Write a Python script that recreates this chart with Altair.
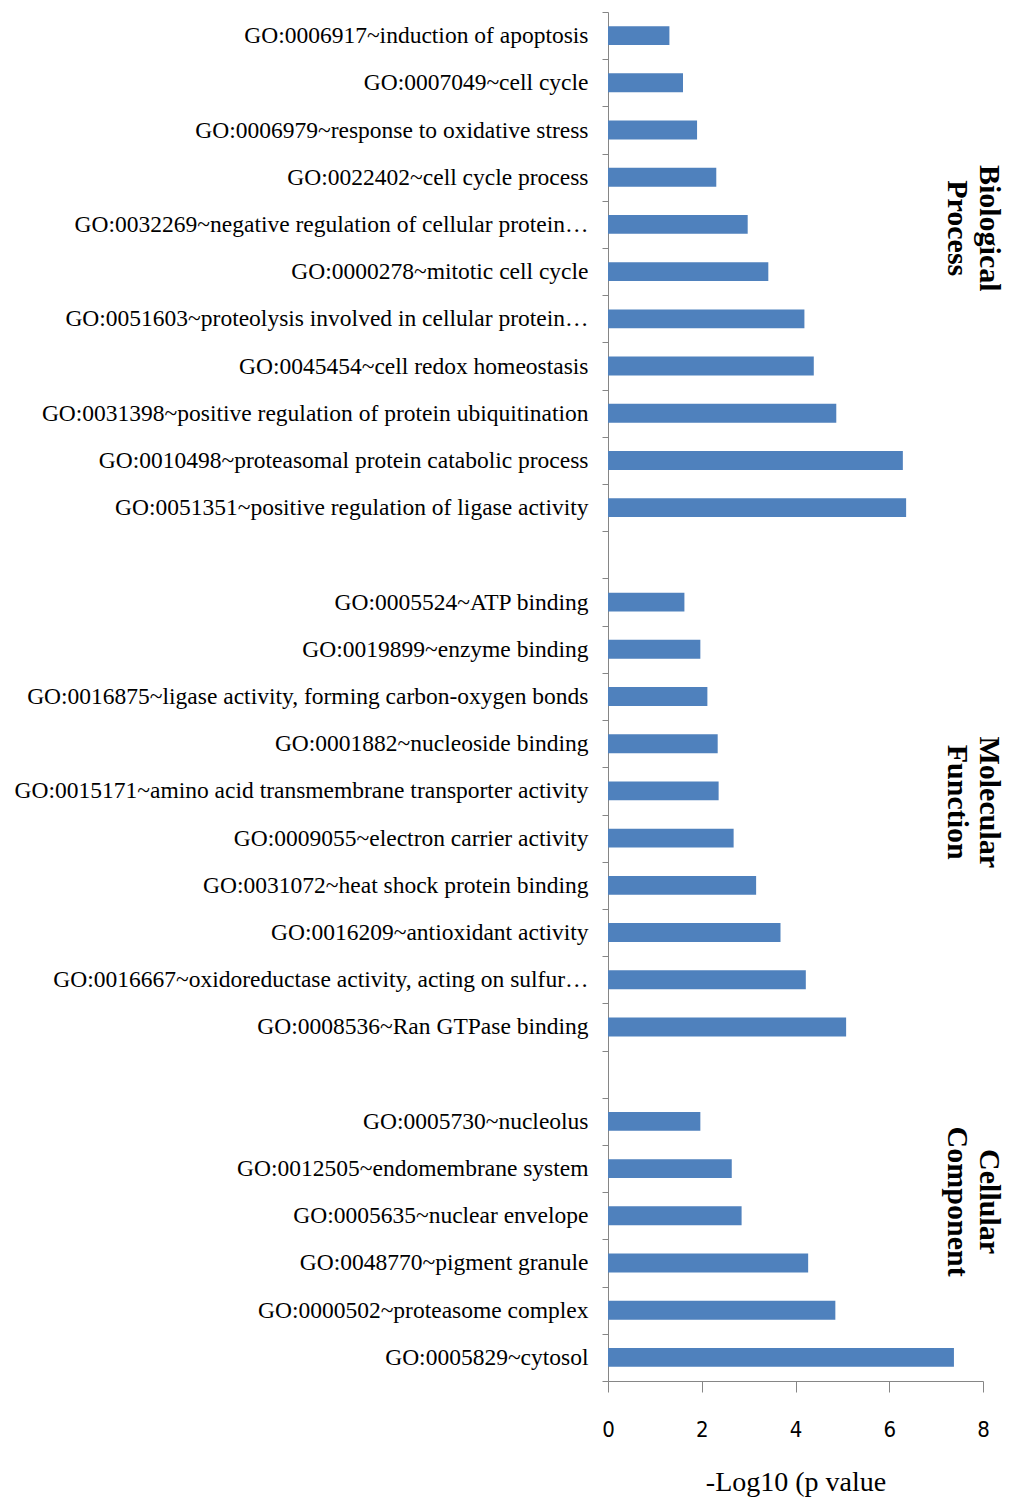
import altair as alt
import pandas as pd

# GO terms per category, top to bottom, with their -log10(p) scores
bp_terms = [
    "GO:0006917~induction of apoptosis",
    "GO:0007049~cell cycle",
    "GO:0006979~response to oxidative stress",
    "GO:0022402~cell cycle process",
    "GO:0032269~negative regulation of cellular protein\u2026",
    "GO:0000278~mitotic cell cycle",
    "GO:0051603~proteolysis involved in cellular protein\u2026",
    "GO:0045454~cell redox homeostasis",
    "GO:0031398~positive regulation of protein ubiquitination",
    "GO:0010498~proteasomal protein catabolic process",
    "GO:0051351~positive regulation of ligase activity",
]
bp_values = [1.31, 1.60, 1.90, 2.31, 2.98, 3.42, 4.19, 4.39, 4.87, 6.29, 6.36]

mf_terms = [
    "GO:0005524~ATP binding",
    "GO:0019899~enzyme binding",
    "GO:0016875~ligase activity, forming carbon-oxygen bonds",
    "GO:0001882~nucleoside binding",
    "GO:0015171~amino acid transmembrane transporter activity",
    "GO:0009055~electron carrier activity",
    "GO:0031072~heat shock protein binding",
    "GO:0016209~antioxidant activity",
    "GO:0016667~oxidoreductase activity, acting on sulfur\u2026",
    "GO:0008536~Ran GTPase binding",
]
mf_values = [1.63, 1.97, 2.12, 2.34, 2.36, 2.68, 3.16, 3.68, 4.22, 5.08]

cc_terms = [
    "GO:0005730~nucleolus",
    "GO:0012505~endomembrane system",
    "GO:0005635~nuclear envelope",
    "GO:0048770~pigment granule",
    "GO:0000502~proteasome complex",
    "GO:0005829~cytosol",
]
cc_values = [1.97, 2.64, 2.85, 4.27, 4.85, 7.38]

group_names = ["Biological\nProcess", "Molecular\nFunction", "Cellular\nComponent"]
x_ticks = [0, 2, 4, 6, 8]

# one category axis with an empty slot between the groups
order = bp_terms + [" "] + mf_terms + ["  "] + cc_terms

bars_df = pd.DataFrame({
    "term": bp_terms + mf_terms + cc_terms,
    "score": bp_values + mf_values + cc_values,
})

AXIS_GREY = "#868686"
SERIF = "Liberation Serif"
NARROW = "Liberation Sans Narrow, DejaVu Sans Condensed, Arial Narrow, sans-serif"

y_scale = alt.Scale(domain=order, paddingInner=0, paddingOuter=0)

bars = alt.Chart(bars_df).mark_bar(
    color="#4F81BD", height=alt.RelativeBandSize(0.4)
).encode(
    x=alt.X(
        "score:Q",
        scale=alt.Scale(domain=[0, 8], nice=False),
        axis=alt.Axis(
            values=x_ticks,
            title="-Log10 (p value",
            titleFont=SERIF,
            titleFontSize=28,
            titleFontWeight="normal",
            titleColor="black",
            titleY=109,
            titleBaseline="alphabetic",
            labelFont=NARROW,
            labelFontSize=22,
            labelColor="black",
            labelPadding=27,
            labelFlush=False,
            tickSize=11,
            tickColor=AXIS_GREY,
            domainColor=AXIS_GREY,
            grid=False,
        ),
    ),
    y=alt.Y(
        "term:N",
        sort=None,
        scale=y_scale,
        axis=alt.Axis(
            title=None,
            tickBand="extent",
            tickSize=6,
            tickColor=AXIS_GREY,
            domainColor=AXIS_GREY,
            labelFont=SERIF,
            labelFontSize=23.5,
            labelColor="black",
            labelPadding=14,
            labelLimit=800,
            grid=False,
        ),
    ),
)

# rotated category names on the right, each anchored inside its own group
anchors = [(bp_terms[4], 0.58), (mf_terms[4], 0.74), (cc_terms[2], 0.2)]
layers = [bars]
for name, (anchor, pos) in zip(group_names, anchors):
    layers.append(
        alt.Chart(pd.DataFrame({"anchor": [anchor], "label": [name]}))
        .mark_text(
            angle=90,
            align="center",
            baseline="middle",
            lineBreak="\n",
            lineHeight=32,
            font=SERIF,
            fontWeight="bold",
            fontSize=30,
            color="black",
        )
        .encode(
            y=alt.Y("anchor:N", bandPosition=pos, sort=None),
            x=alt.value(381),
            text="label:N",
        )
    )

chart = (
    alt.layer(*layers)
    .properties(
        width=375,
        height=1369,
        padding={"left": 608, "top": 12, "right": 40, "bottom": 121},
        autosize=alt.AutoSizeParams(type="none"),
        background="white",
    )
    .configure_view(stroke=None)
)

chart.save("out.html", embed_options={"renderer": "svg", "actions": False})
